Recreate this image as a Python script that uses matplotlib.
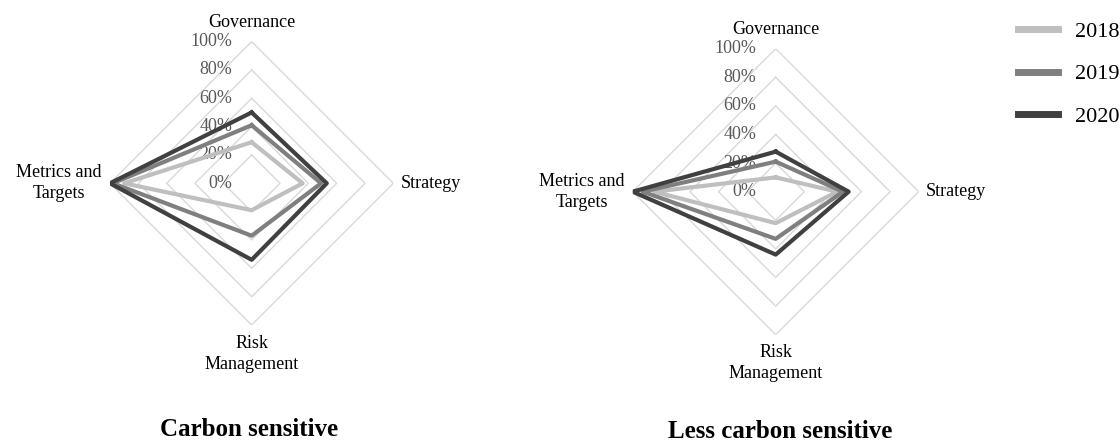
import numpy as np
import matplotlib
matplotlib.use("Agg")
import matplotlib.pyplot as plt

plt.rcParams["font.family"] = ["Liberation Serif", "DejaVu Serif"]

# Data (share of firms disclosing, per TCFD pillar)
categories = ["Governance", "Strategy", "Risk\nManagement", "Metrics and\nTargets"]
years = ["2018", "2019", "2020"]
carbon_sensitive = {
    "2018": [0.29, 0.36, 0.19, 0.90],
    "2019": [0.41, 0.49, 0.37, 0.98],
    "2020": [0.50, 0.53, 0.54, 1.00],
}
less_carbon_sensitive = {
    "2018": [0.10, 0.43, 0.22, 0.85],
    "2019": [0.21, 0.47, 0.33, 0.93],
    "2020": [0.28, 0.51, 0.44, 1.00],
}
ring_levels = [0.2, 0.4, 0.6, 0.8, 1.0]
tick_levels = [0.0, 0.2, 0.4, 0.6, 0.8, 1.0]
tick_labels = ["0%", "20%", "40%", "60%", "80%", "100%"]

colors = {"2018": "#bfbfbf", "2019": "#7f7f7f", "2020": "#404040"}

angles = np.linspace(0, 2 * np.pi, len(categories), endpoint=False)
angles_closed = np.append(angles, angles[0])

fig = plt.figure(figsize=(11.2, 4.43), dpi=100)


def radar(rect, data, title, title_xy):
    ax = fig.add_axes(rect, projection="polar")
    ax.set_theta_zero_location("N")
    ax.set_theta_direction(-1)
    ax.set_ylim(0, 1)
    ax.grid(False)
    ax.spines["polar"].set_visible(False)
    ax.set_xticks([])
    ax.set_yticks([])
    ax.patch.set_alpha(0)

    # diamond grid rings
    for lev in ring_levels:
        ax.plot(angles_closed, [lev] * len(angles_closed), color="#d9d9d9",
                lw=1.0, zorder=1)

    lines = []
    for yr in years:
        vals = data[yr] + data[yr][:1]
        ln, = ax.plot(angles_closed, vals, color=colors[yr], lw=3.0,
                      zorder=3, label=yr)
        lines.append(ln)

    # radial tick labels, left of the vertical axis
    for lev, lab in zip(tick_levels, tick_labels):
        ax.annotate(lab, xy=(0, lev), xytext=(-14, 0),
                    textcoords="offset points", ha="right", va="center",
                    fontsize=13, color="#595959", zorder=2)

    # category labels
    offsets = [((0, 14), "center", "center"),
               ((5, 0), "left", "center"),
               ((0, -7), "center", "top"),
               ((-6, 0), "right", "center")]
    for ang, name, (off, ha, va) in zip(angles, categories, offsets):
        ax.annotate(name, xy=(ang, 1.0), xytext=off, textcoords="offset points",
                    ha=ha, va=va, fontsize=13, color="black", linespacing=1.3,
                    multialignment="center", annotation_clip=False)

    fig.text(title_xy[0], title_xy[1], title, ha="center", va="center",
             fontsize=18, fontweight="bold")
    return lines


lines = radar([0.0982, 0.2664, 0.253, 0.6397], carbon_sensitive,
              "Carbon sensitive", (249 / 1120, 1 - 430 / 443))
radar([0.5649, 0.2445, 0.2554, 0.6456], less_carbon_sensitive,
      "Less carbon sensitive", (780.5 / 1120, 1 - 432 / 443))

leg = fig.legend(lines, years, loc="upper left",
                 bbox_to_anchor=(1018 / 1120, 1 - 21 / 443), frameon=False,
                 fontsize=16, handlelength=1.8, handletextpad=0.75,
                 labelspacing=1.0, borderaxespad=0, borderpad=0)
for h in leg.legend_handles:
    h.set_linewidth(5)

fig.savefig("out.png", dpi=100)
